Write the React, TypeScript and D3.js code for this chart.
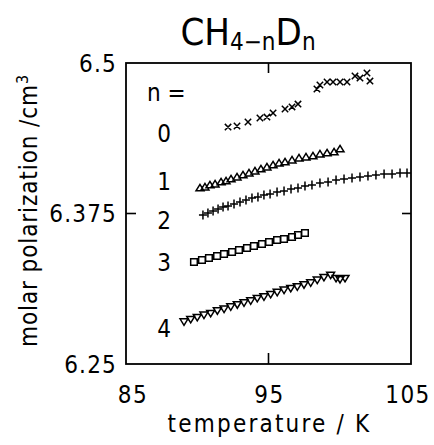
import React from "react";
import * as d3 from "d3";

const W = 434, H = 445;
const margin = { left: 126, right: 23, top: 63, bottom: 81 };

const xTicks = [85, 95, 105];
const yTicks = [6.25, 6.375, 6.5];
const yTickLabels = ["6.25", "6.375", "6.5"];
const seriesLabels = ["0", "1", "2", "3", "4"];
const seriesLabelY = [6.442, 6.402, 6.37, 6.335, 6.28];

const t0 = [92.16, 92.79, 93.56, 94.40, 94.89, 95.32, 96.16, 96.65, 97.07, 98.40, 98.61, 99.11, 99.53, 100.02, 100.51, 101.07, 101.42, 101.91, 102.12];
const p0 = [6.4468, 6.4477, 6.4510, 6.4543, 6.4551, 6.4585, 6.4618, 6.4635, 6.4659, 6.4784, 6.4817, 6.4842, 6.4842, 6.4842, 6.4842, 6.4892, 6.4875, 6.4917, 6.4850];

const t1 = [90.19, 90.54, 90.89, 91.25, 91.67, 92.02, 92.37, 92.79, 93.21, 93.63, 94.05, 94.47, 94.89, 95.32, 95.74, 96.16, 96.65, 97.14, 97.63, 98.12, 98.61, 99.11, 99.60, 100.02];
const p1 = [6.3962, 6.3970, 6.3987, 6.3995, 6.4012, 6.4020, 6.4037, 6.4053, 6.4070, 6.4086, 6.4103, 6.4120, 6.4136, 6.4153, 6.4169, 6.4178, 6.4194, 6.4211, 6.4219, 6.4228, 6.4244, 6.4253, 6.4261, 6.4286];

const t2 = [90.40, 90.75, 91.11, 91.46, 91.81, 92.16, 92.58, 93.00, 93.42, 93.84, 94.26, 94.68, 95.11, 95.60, 96.09, 96.58, 97.07, 97.56, 98.05, 98.61, 99.18, 99.74, 100.30, 100.86, 101.42, 101.98, 102.54, 103.11, 103.67, 104.23, 104.72];
const p2 = [6.3738, 6.3754, 6.3771, 6.3787, 6.3804, 6.3812, 6.3829, 6.3845, 6.3862, 6.3879, 6.3887, 6.3904, 6.3912, 6.3929, 6.3937, 6.3953, 6.3962, 6.3978, 6.3987, 6.4003, 6.4012, 6.4028, 6.4037, 6.4045, 6.4053, 6.4061, 6.4070, 6.4078, 6.4078, 6.4086, 6.4086];

const t3 = [89.77, 90.33, 90.82, 91.39, 91.88, 92.44, 92.93, 93.49, 93.98, 94.54, 95.04, 95.60, 96.09, 96.65, 97.07, 97.56];
const p3 = [6.3347, 6.3364, 6.3380, 6.3397, 6.3414, 6.3430, 6.3447, 6.3463, 6.3480, 6.3497, 6.3513, 6.3530, 6.3538, 6.3555, 6.3571, 6.3588];

const t4 = [89.07, 89.54, 90.00, 90.47, 90.94, 91.41, 91.88, 92.35, 92.81, 93.28, 93.75, 94.21, 94.68, 95.15, 95.61, 96.09, 96.56, 97.02, 97.49, 97.96, 98.42, 98.89, 99.36, 99.74, 100.02, 100.37];
const p4 = [6.2851, 6.2871, 6.2888, 6.2907, 6.2921, 6.2943, 6.2957, 6.2976, 6.2993, 6.3009, 6.3026, 6.3046, 6.3059, 6.3079, 6.3096, 6.3115, 6.3129, 6.3142, 6.3159, 6.3175, 6.3198, 6.3220, 6.3239, 6.3212, 6.3203, 6.3212];

const FONT = "'DejaVu Sans Condensed', 'Liberation Sans Narrow', 'DejaVu Sans', sans-serif";

function marker(kind: string, x: number, y: number): string {
  const s = 3.6;
  switch (kind) {
    case "x":
      return `M${x - 3.2},${y - 3.2}L${x + 3.2},${y + 3.2}M${x - 3.2},${y + 3.2}L${x + 3.2},${y - 3.2}`;
    case "plus":
      return `M${x - 4},${y}L${x + 4},${y}M${x},${y - 4.5}L${x},${y + 4.5}`;
    case "tri":
      return `M${x},${y - s}L${x + s * 1.1},${y + s * 0.8}L${x - s * 1.1},${y + s * 0.8}Z`;
    case "itri":
      return `M${x},${y + s}L${x + s * 1.1},${y - s * 0.8}L${x - s * 1.1},${y - s * 0.8}Z`;
    case "sq":
      return `M${x - 3.3},${y - 3.3}h6.6v6.6h-6.6Z`;
  }
  return "";
}

export default function App() {
  const x = d3.scaleLinear().domain([85, 105]).range([margin.left, W - margin.right]);
  const y = d3.scaleLinear().domain([6.25, 6.5]).range([H - margin.bottom, margin.top]);
  const series = [
    { t: t0, p: p0, kind: "x" },
    { t: t1, p: p1, kind: "tri" },
    { t: t2, p: p2, kind: "plus" },
    { t: t3, p: p3, kind: "sq" },
    { t: t4, p: p4, kind: "itri" },
  ];
  const x0 = x(85), x1 = x(105), y0 = y(6.25), y1 = y(6.5);
  return (
    <svg width={W} height={H} style={{ position: "absolute", left: 0, top: 0, background: "#fff" }} fontFamily={FONT}>
      <rect x={0} y={0} width={W} height={H} fill="#fff" />
      {/* frame */}
      <rect x={x0} y={y1} width={x1 - x0} height={y0 - y1} fill="none" stroke="#000" strokeWidth={1.8} />
      {/* ticks */}
      {xTicks.filter((t) => t !== 85 && t !== 105).map((t) => (
        <g key={"xt" + t}>
          <line x1={x(t)} x2={x(t)} y1={y0} y2={y0 - 11} stroke="#000" strokeWidth={1.6} />
          <line x1={x(t)} x2={x(t)} y1={y1} y2={y1 + 10} stroke="#000" strokeWidth={1.6} />
        </g>
      ))}
      {yTicks.filter((t) => t !== 6.25 && t !== 6.5).map((t) => (
        <g key={"yt" + t}>
          <line x1={x0} x2={x0 + 10} y1={y(t)} y2={y(t)} stroke="#000" strokeWidth={1.6} />
          <line x1={x1} x2={x1 - 9} y1={y(t)} y2={y(t)} stroke="#000" strokeWidth={1.6} />
        </g>
      ))}
      {/* tick labels */}
      {xTicks.map((t) => (
        <text key={"xl" + t} x={x(t) + (t === 85 ? 7 : t === 105 ? -3 : 1)} y={403} fontSize={24} letterSpacing={1.5} textAnchor="middle">{t}</text>
      ))}
      {yTicks.map((t, i) => (
        <text key={"yl" + t} x={x0 - 9} y={y(t) + 8.5} fontSize={24} letterSpacing={1.2} textAnchor="end">{yTickLabels[i]}</text>
      ))}
      {/* axis titles */}
      <text x={(x0 + x1) / 2 + 1} y={432} fontSize={24} letterSpacing={2.2} textAnchor="middle">temperature / K</text>
      <text transform={`translate(37,${(y0 + y1) / 2 - 3}) rotate(-90)`} fontSize={24} letterSpacing={0.9} textAnchor="middle">
        molar polarization /cm<tspan dy={-9} fontSize={16}>3</tspan>
      </text>
      {/* title */}
      <text x={248} y={45} fontSize={38} textAnchor="middle">
        CH<tspan fontSize={24} dy={5}>4−n</tspan><tspan dy={-5}>D</tspan><tspan fontSize={24} dy={5}>n</tspan>
      </text>
      {/* n = labels */}
      <text x={147} y={101} fontSize={24}>n =</text>
      {seriesLabels.map((s, i) => (
        <text key={"sl" + s} x={164} y={y(seriesLabelY[i]) + 9} fontSize={24} textAnchor="middle">{s}</text>
      ))}
      {/* markers */}
      {series.map((s, si) => (
        <path
          key={"s" + si}
          d={s.t.map((t, i) => marker(s.kind, x(t), y(s.p[i]))).join("")}
          fill="none"
          stroke="#000"
          strokeWidth={1.5}
        />
      ))}
    </svg>
  );
}
